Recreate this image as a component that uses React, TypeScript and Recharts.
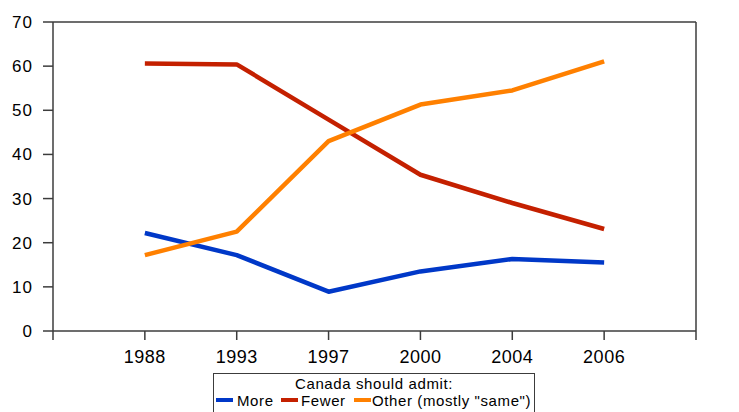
import React from 'react';
import { LineChart, Line, XAxis, YAxis, ReferenceLine } from 'recharts';

const years = ['1988', '1993', '1997', '2000', '2004', '2006'];
const more = [22.2, 17.2, 8.9, 13.5, 16.3, 15.5];
const fewer = [60.6, 60.4, 47.9, 35.4, 29.0, 23.1];
const other = [17.2, 22.5, 43.0, 51.3, 54.5, 61.1];
const yTicks = [0, 10, 20, 30, 40, 50, 60, 70];
const xTickLabels = ['', ...years, ''];
const seriesNames = ['More', 'Fewer', 'Other (mostly "same")'];
const legendTitle = 'Canada should admit:';

const COLORS = ['#0038C8', '#C42000', '#FF8000'];
const AXIS = '#3c3c3c';
const FONT = '"Liberation Sans", Arial, sans-serif';

const data = years.map((y, i) => ({
  x: i + 1,
  year: y,
  more: more[i],
  fewer: fewer[i],
  other: other[i],
}));
const xTicks = xTickLabels.map((_, i) => i);

// legend item offsets inside the legend box (swatch left, text left)
const legendSwatchX = [2, 67, 140];
const legendTextX = [23, 87, 158];

export default function App() {
  return (
    <div
      style={{
        position: 'absolute',
        left: 0,
        top: 0,
        width: 739,
        height: 412,
        overflow: 'hidden',
        background: '#fff',
        fontFamily: FONT,
      }}
    >
      <LineChart
        width={739}
        height={412}
        data={data}
        margin={{ top: 22, right: 0, left: 0, bottom: 0 }}
      >
        <XAxis
          dataKey="x"
          type="number"
          domain={[0, 7]}
          ticks={xTicks}
          tickFormatter={(v: number) => xTickLabels[v] ?? ''}
          height={81}
          tickSize={9}
          tickMargin={10}
          stroke={AXIS}
          strokeWidth={1.5}
          tick={{ fill: '#000', fontSize: 18, fontFamily: FONT, letterSpacing: 0.5 }}
          interval={0}
        />
        <YAxis
          yAxisId="left"
          domain={[0, 70]}
          ticks={yTicks}
          width={53}
          tickSize={10}
          tickMargin={10}
          stroke={AXIS}
          strokeWidth={1.5}
          tick={{ fill: '#000', fontSize: 17, fontFamily: FONT, letterSpacing: 1 }}
          interval={0}
        />
        <YAxis
          yAxisId="right"
          orientation="right"
          domain={[0, 70]}
          ticks={yTicks}
          width={43}
          tickSize={9}
          tickMargin={12}
          stroke={AXIS}
          strokeWidth={1.5}
          tick={{ fill: '#000', fontSize: 17, fontFamily: FONT, letterSpacing: 1 }}
          interval={0}
        />
        <ReferenceLine yAxisId="left" y={70} stroke={AXIS} strokeWidth={1.5} />
        <Line
          yAxisId="left"
          dataKey="more"
          name={seriesNames[0]}
          stroke={COLORS[0]}
          strokeWidth={4.5}
          dot={false}
          isAnimationActive={false}
          strokeLinejoin="round"
        />
        <Line
          yAxisId="left"
          dataKey="fewer"
          name={seriesNames[1]}
          stroke={COLORS[1]}
          strokeWidth={4.5}
          dot={false}
          isAnimationActive={false}
          strokeLinejoin="round"
        />
        <Line
          yAxisId="left"
          dataKey="other"
          name={seriesNames[2]}
          stroke={COLORS[2]}
          strokeWidth={4.5}
          dot={false}
          isAnimationActive={false}
          strokeLinejoin="round"
        />
      </LineChart>
      <div
        style={{
          position: 'absolute',
          left: 213,
          top: 373,
          width: 322,
          height: 50,
          border: `1px solid ${AXIS}`,
          boxSizing: 'border-box',
          background: '#fff',
          fontFamily: FONT,
          fontSize: 15,
          lineHeight: '15px',
          letterSpacing: 0.6,
          color: '#000',
          whiteSpace: 'nowrap',
        }}
      >
        <div style={{ position: 'absolute', left: 0, right: 0, top: 2, textAlign: 'center' }}>
          {legendTitle}
        </div>
        {seriesNames.map((n, i) => (
          <React.Fragment key={n}>
            <span
              style={{
                position: 'absolute',
                left: legendSwatchX[i],
                top: 24,
                width: 17,
                height: 4,
                background: COLORS[i],
              }}
            />
            <span style={{ position: 'absolute', left: legendTextX[i], top: 19 }}>{n}</span>
          </React.Fragment>
        ))}
      </div>
    </div>
  );
}
